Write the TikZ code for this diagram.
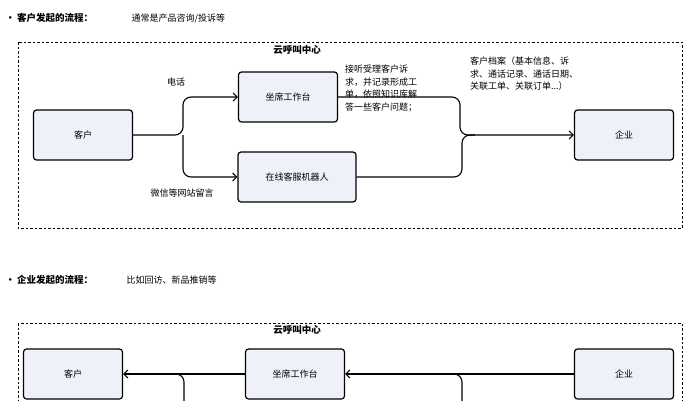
\documentclass[tikz,border=0pt]{standalone}
\usepackage{fontspec}
\setmainfont{Noto Sans CJK SC}
\usetikzlibrary{arrows.meta}
\definecolor{boxfill}{HTML}{EEF0FA}
\tikzset{
    every node/.style={font=\fontsize{9}{12.5}\selectfont},
    unit/.style={draw, rectangle, rounded corners=3pt, line width=1.2pt, fill=boxfill, minimum width=99pt, minimum height=50pt},
    flow/.style={line width=1.1pt, rounded corners=8pt},
    arr/.style={flow, -{Straight Barb[length=4pt,width=8pt]}},
    frame/.style={draw, line width=0.9pt, dash pattern=on 2.5pt off 2pt},
    head/.style={font=\fontsize{9.5}{12}\selectfont\bfseries}
}
\begin{document}
\begin{tikzpicture}[x=1pt, y=-1pt]
        \useasboundingbox (0,0) rectangle (687,400);
        \clip (0,0) rectangle (687,400);
        % customer initiated
        \node[anchor=west, head] (b1) at (2,18) {\textbullet\ 客户发起的流程：};
        \node[anchor=west] (d1) at (128,18) {通常是产品咨询/投诉等};
        \draw[frame] (18,42) rectangle (682,228);
        \node[head] (cc1) at (297,50) {云呼叫中心};
        \node[unit] (cust) at (83,135) {客户};
        \node[unit] (seat) at (288,97) {坐席工作台};
        \node[unit, minimum width=118pt] (bot) at (297,177) {在线客服机器人};
        \node[unit] (ent) at (624,135) {企业};
        \node (phone) at (176,82) {电话};
        \node (wechat) at (182,193) {微信等网站留言};
        \node[anchor=north west, align=left, inner sep=1pt] (note1) at (344,64) {接听受理客户诉\\求，并记录形成工\\单，依照知识库解\\答一些客户问题；};
        \node[anchor=north west, align=left, inner sep=1pt] (note2) at (469,56) {客户档案（基本信息、诉\\求、通话记录、通话日期、\\关联工单、关联订单...）};
        \draw[arr] (cust.east) -- (183,135) |- (seat.west);
        \draw[arr] (183,135) |- (bot.west);
        \draw[arr] (seat.east) -- (460,97) |- (ent.west);
        \draw[flow] (bot.east) -- (462,177) |- (475,135);
        % enterprise initiated
        \node[anchor=west, head] (b2) at (2,280) {\textbullet\ 企业发起的流程：};
        \node[anchor=west] (d2) at (123,280) {比如回访、新品推销等};
        \draw[frame] (18,323) rectangle (682,420);
        \node[head] (cc2) at (297,330) {云呼叫中心};
        \node[unit] (cust2) at (73,374) {客户};
        \node[unit] (seat2) at (295,374) {坐席工作台};
        \node[unit] (ent2) at (624,374) {企业};
        \draw[arr] (ent2.west) -- (seat2.east);
        \draw[arr] (seat2.west) -- (cust2.east);
        \coordinate (j1) at (172,374);
        \coordinate (j2) at (452,374);
        \draw[flow] (j1) -| (184,410);
        \draw[flow] (j2) -| (462,410);
\end{tikzpicture}
\end{document}
